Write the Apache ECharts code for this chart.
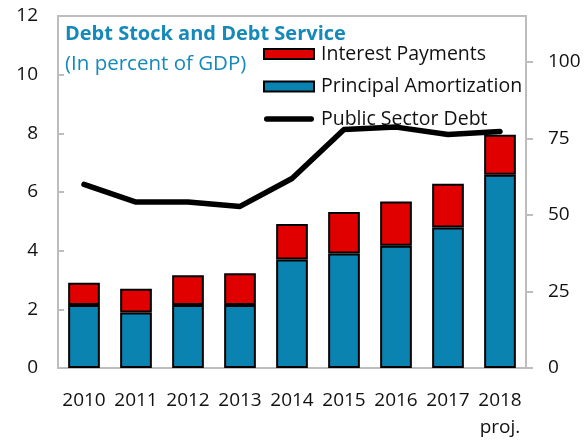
<!DOCTYPE html>
<html><head><meta charset="utf-8">
<script src="https://cdn.jsdelivr.net/npm/echarts@6/dist/echarts.min.js"></script>
<style>html,body{margin:0;padding:0;background:#fff}#c{width:586px;height:441px}</style>
</head><body><div id="c"></div>
<script>
const categories = ['2010','2011','2012','2013','2014','2015','2016','2017','2018\nproj.'];
const principal = [2.15, 1.89, 2.15, 2.15, 3.70, 3.90, 4.17, 4.79, 6.59];
const interest = [0.76, 0.81, 1.01, 1.08, 1.21, 1.42, 1.51, 1.49, 1.36];
const publicDebt = [60.0, 54.2, 54.2, 52.8, 61.9, 77.9, 78.7, 76.3, 77.3];
const leftTicks = [0,2,4,6,8,10,12];
const rightTicks = [0,25,50,75,100];

const FONT = 'Open Sans';
const chart = echarts.init(document.getElementById('c'));
chart.setOption({
  animation: false,
  textStyle: {fontFamily: FONT},
  title: {
    text: 'Debt Stock and Debt Service',
    subtext: '(In percent of GDP)',
    left: 60, top: 17, itemGap: 6,
    textStyle: {fontFamily: FONT, fontWeight: 'bold', fontSize: 20, lineHeight: 24, color: '#1589b9', letterSpacing: -0.25},
    subtextStyle: {fontFamily: FONT, fontSize: 20.5, lineHeight: 24, color: '#1589b9'}
  },
  legend: {
    orient: 'vertical', left: 258, top: 39, itemWidth: 50, itemHeight: 10, itemGap: 12.5,
    textStyle: {fontFamily: FONT, fontSize: 19.5, lineHeight: 20, color: '#111', padding: [0,0,0,2]},
    data: [
      {name: 'Interest Payments', icon: 'rect', itemStyle: {borderColor: '#000', borderWidth: 2}},
      {name: 'Principal Amortization', icon: 'rect', itemStyle: {borderColor: '#000', borderWidth: 2}},
      {name: 'Public Sector Debt', icon: 'path://M2.75,0 L49.25,0 A2.75,2.75 0 0 1 49.25,5.5 L2.75,5.5 A2.75,2.75 0 0 1 2.75,0 Z', itemStyle: {color: '#000', borderWidth: 0}}
    ]
  },
  grid: {left: 58, right: 60, top: 16, bottom: 73, show: true, borderColor: '#bdbdbd', borderWidth: 2},
  xAxis: {
    type: 'category', data: categories,
    axisLine: {lineStyle: {color: '#bdbdbd', width: 2}},
    axisTick: {inside: true, length: 6, lineStyle: {color: '#bdbdbd', width: 2}},
    axisLabel: {fontSize: 19, color: '#111', margin: 19, lineHeight: 27, interval: 0}
  },
  yAxis: [
    {type: 'value', min: 0, max: 12, interval: 2, position: 'left',
     axisLine: {show: true, lineStyle: {color: '#bdbdbd', width: 2}},
     axisTick: {show: true, inside: true, length: 6, lineStyle: {color: '#bdbdbd', width: 2}},
     axisLabel: {fontSize: 19, color: '#111', margin: 20, customValues: leftTicks},
     splitLine: {show: false}},
    {type: 'value', min: 0, max: 115, position: 'right',
     axisLine: {show: true, lineStyle: {color: '#bdbdbd', width: 2}},
     axisTick: {show: true, inside: false, length: 7, lineStyle: {color: '#bdbdbd', width: 2}, customValues: rightTicks},
     axisLabel: {fontSize: 19, color: '#111', margin: 22, customValues: rightTicks},
     splitLine: {show: false}}
  ],
  series: [
    {name: 'Principal Amortization', type: 'bar', stack: 's', data: principal, barWidth: '61%',
     itemStyle: {color: '#0b83b1', borderColor: '#000', borderWidth: 2}},
    {name: 'Interest Payments', type: 'bar', stack: 's', data: interest, barWidth: '61%',
     itemStyle: {color: '#e00000', borderColor: '#000', borderWidth: 2}},
    {name: 'Public Sector Debt', type: 'line', yAxisIndex: 1, data: publicDebt, symbol: 'none',
     z: 5, lineStyle: {color: '#000', width: 5.5, cap: 'round', join: 'round'}, itemStyle: {color: '#000'}}
  ]
});
</script></body></html>
